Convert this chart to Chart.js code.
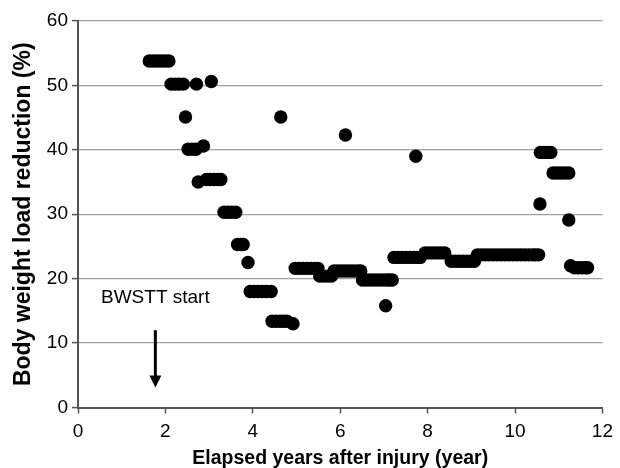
<!DOCTYPE html>
<html>
<head>
<meta charset="utf-8">
<script src="https://cdn.jsdelivr.net/npm/chart.js@4"></script>
<style>
  html, body { margin: 0; padding: 0; background: #fff; }
  #wrap { width: 620px; height: 468px; position: relative; }
</style>
</head>
<body>
<div id="wrap"><canvas id="grafik"></canvas></div>
<script>
// --------------------------------------------
// DATA (years after injury, % load reduction)
// --------------------------------------------
const YEARS = [
  1.63, 1.72, 1.81, 1.90, 1.99, 2.08,
  2.13, 2.22, 2.31, 2.41,
  2.46,
  2.52, 2.61, 2.70, 2.87,
  2.71,
  2.75, 2.94, 3.03, 3.12, 3.20, 3.27,
  3.05,
  3.34, 3.43, 3.52, 3.61,
  3.65, 3.72, 3.78,
  3.89,
  3.94, 4.03, 4.12, 4.21, 4.31, 4.42,
  4.44, 4.53, 4.62, 4.70, 4.78, 4.92,
  4.64,
  4.97, 5.06, 5.15, 5.24, 5.33, 5.42, 5.49,
  5.53, 5.62, 5.71, 5.80,
  5.86, 5.95, 6.04, 6.13, 6.22, 6.31, 6.40, 6.47,
  6.12,
  6.51, 6.60, 6.69, 6.78, 6.87, 6.96, 7.05, 7.12, 7.19,
  7.04,
  7.23, 7.32, 7.41, 7.50, 7.59, 7.68, 7.76, 7.83,
  7.73,
  7.94, 8.03, 8.12, 8.21, 8.30, 8.39,
  8.54, 8.63, 8.72, 8.81, 8.90, 8.99, 9.07,
  9.14, 9.23, 9.32, 9.41, 9.50, 9.59, 9.68, 9.77, 9.86, 9.95,
  10.04, 10.13, 10.22, 10.31, 10.40, 10.47, 10.54,
  10.57,
  10.58, 10.66, 10.74, 10.82,
  10.87, 10.96, 11.05, 11.14, 11.23,
  11.23,
  11.27, 11.36, 11.45, 11.54, 11.62, 11.66
];

const LOAD = [
  53.8, 53.8, 53.8, 53.8, 53.8, 53.8,
  50.2, 50.2, 50.2, 50.2,
  45.1,
  40.1, 40.1, 40.1, 40.6,
  50.2,
  35.0, 35.4, 35.4, 35.4, 35.4, 35.4,
  50.6,
  30.3, 30.3, 30.3, 30.3,
  25.3, 25.3, 25.3,
  22.5,
  18.0, 18.0, 18.0, 18.0, 18.0, 18.0,
  13.4, 13.4, 13.4, 13.4, 13.4, 13.0,
  45.1,
  21.6, 21.6, 21.6, 21.6, 21.6, 21.6, 21.6,
  20.4, 20.4, 20.4, 20.4,
  21.2, 21.2, 21.2, 21.2, 21.2, 21.2, 21.2, 21.2,
  42.3,
  19.8, 19.8, 19.8, 19.8, 19.8, 19.8, 19.8, 19.8, 19.8,
  15.8,
  23.3, 23.3, 23.3, 23.3, 23.3, 23.3, 23.3, 23.3,
  39.0,
  24.0, 24.0, 24.0, 24.0, 24.0, 24.0,
  22.7, 22.7, 22.7, 22.7, 22.7, 22.7, 22.7,
  23.7, 23.7, 23.7, 23.7, 23.7, 23.7, 23.7, 23.7, 23.7, 23.7,
  23.7, 23.7, 23.7, 23.7, 23.7, 23.7, 23.7,
  31.6,
  39.6, 39.6, 39.6, 39.6,
  36.4, 36.4, 36.4, 36.4, 36.4,
  29.1,
  22.0, 21.7, 21.7, 21.7, 21.7, 21.7
];

const X_TICKS = [0, 2, 4, 6, 8, 10, 12];
const Y_TICKS = [0, 10, 20, 30, 40, 50, 60];

const X_TITLE = "Elapsed years after injury (year)";
const Y_TITLE = "Body weight load reduction (%)";

// annotation: label + down arrow at therapy start
const START_LABEL = "BWSTT start";
const START_X = 1.77;
const LABEL_Y = 17.0;
const ARROW_FROM = 12.0;
const ARROW_TO = 3.1;

const FONT = "'Liberation Sans', Arial, sans-serif";

// --------------------------------------------
// annotation plugin: draws the label and arrow in data units
// --------------------------------------------
const startMarker = {
  id: "startMarker",
  afterDatasetsDraw(chart) {
    const { ctx, scales: { x, y } } = chart;
    const px = x.getPixelForValue(START_X);
    const yTop = y.getPixelForValue(ARROW_FROM);
    const yTip = y.getPixelForValue(ARROW_TO);
    ctx.save();
    ctx.fillStyle = "#000";
    ctx.strokeStyle = "#000";
    ctx.font = "19px " + FONT;
    ctx.textAlign = "center";
    ctx.textBaseline = "middle";
    ctx.fillText(START_LABEL, px, y.getPixelForValue(LABEL_Y));

    ctx.lineWidth = 3;
    ctx.beginPath();
    ctx.moveTo(px, yTop);
    ctx.lineTo(px, yTip - 8);
    ctx.stroke();
    ctx.beginPath();
    ctx.moveTo(px, yTip);
    ctx.lineTo(px - 6, yTip - 12);
    ctx.lineTo(px + 6, yTip - 12);
    ctx.closePath();
    ctx.fill();
    ctx.restore();
  }
};

const noktalar = YEARS.map((v, i) => ({ x: v, y: LOAD[i] }));

new Chart(document.getElementById("grafik"), {
  type: "scatter",
  data: {
    datasets: [{
      data: noktalar,
      pointRadius: 6.7,
      pointHoverRadius: 6.7,
      borderWidth: 0,
      backgroundColor: "#000",
      pointBorderColor: "#000"
    }]
  },
  options: {
    responsive: true,
    maintainAspectRatio: false,
    animation: false,
    layout: { padding: { left: 0, top: 21, right: 10, bottom: 0 } },
    plugins: { legend: { display: false }, tooltip: { enabled: false } },
    scales: {
      x: {
        type: "linear",
        min: 0, max: 12,
        afterBuildTicks: s => { s.ticks = X_TICKS.map(v => ({ value: v })); },
        afterFit: s => { s.height = 60.5; },
        ticks: { color: "#000", font: { family: FONT, size: 19 }, padding: 7 },
        grid: { drawOnChartArea: false, tickColor: "#555", tickLength: 6, tickWidth: 1.5 },
        border: { color: "#555", width: 2 },
        title: {
          display: true, text: X_TITLE, color: "#000",
          font: { family: FONT, size: 19.5, weight: "bold", lineHeight: 1 },
          padding: { top: 0, bottom: 0 }
        }
      },
      y: {
        min: 0, max: 60,
        afterBuildTicks: s => { s.ticks = Y_TICKS.map(v => ({ value: v })); },
        afterFit: s => { s.width = 78; },
        ticks: { color: "#000", font: { family: FONT, size: 19 }, padding: 4 },
        grid: { color: "#a0a0a0", lineWidth: 1.2, tickColor: "#555", tickLength: 6, tickWidth: 1.5 },
        border: { color: "#555", width: 2 },
        title: {
          display: true, text: Y_TITLE, color: "#000",
          font: { family: FONT, size: 23, weight: "bold", lineHeight: 1 },
          padding: { top: 12, bottom: 0 }
        }
      }
    }
  },
  plugins: [startMarker]
});
</script>
</body>
</html>
